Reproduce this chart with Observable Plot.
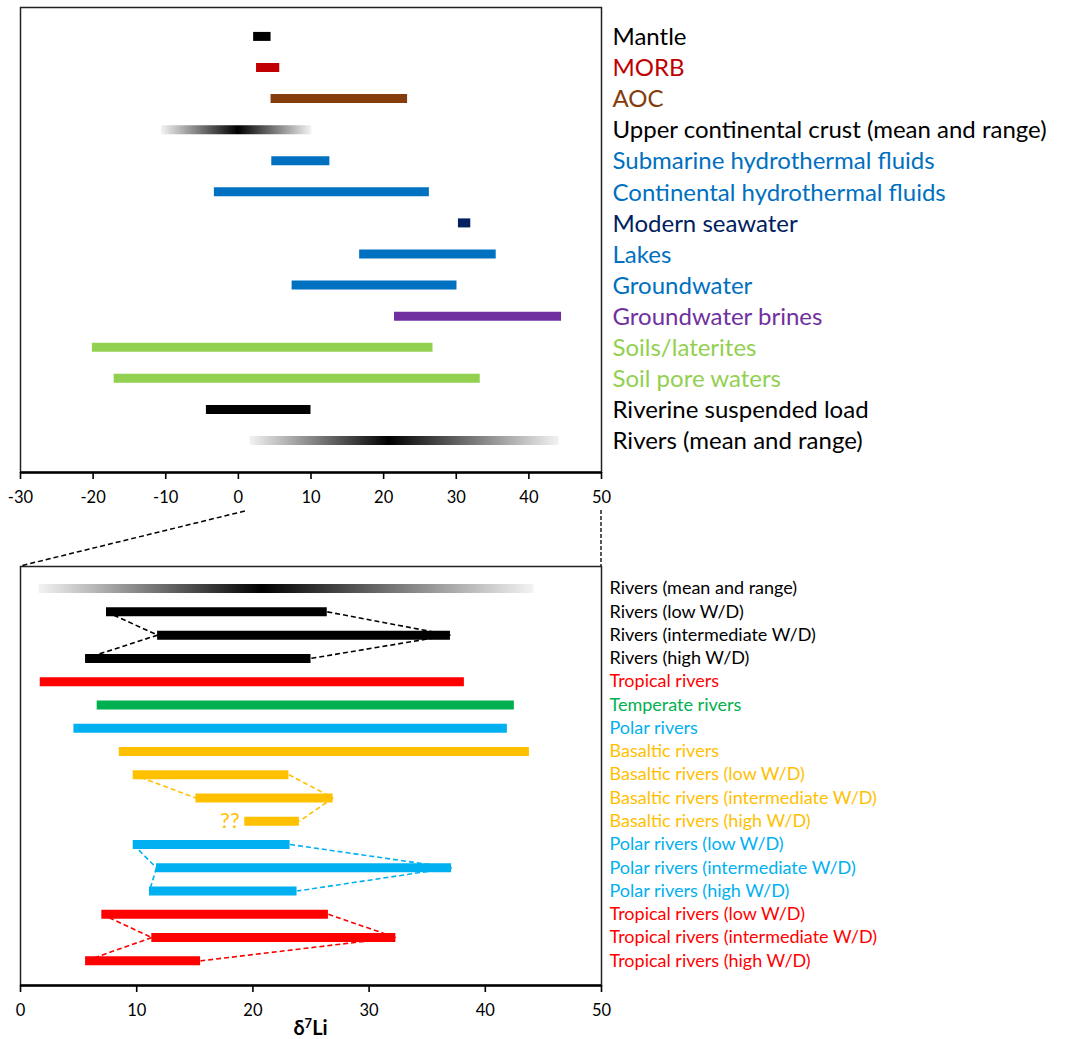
<!DOCTYPE html>
<html><head><meta charset="utf-8">
<script src="https://cdn.jsdelivr.net/npm/d3@7"></script>
<script src="https://cdn.jsdelivr.net/npm/@observablehq/plot@0.6"></script>
<style>
body{margin:0;background:#fff;}
#wrap{position:relative;width:1066px;height:1039px;font-family:Lato,"Open Sans",sans-serif;}
#wrap svg{position:absolute;left:0;overflow:visible;}
</style></head><body><div id="wrap"></div>
<script>
// ---------- TOP PANEL DATA ----------
const topNames = ["Mantle","MORB","AOC","Upper continental crust (mean and range)","Submarine hydrothermal fluids","Continental hydrothermal fluids","Modern seawater","Lakes","Groundwater","Groundwater brines","Soils/laterites","Soil pore waters","Riverine suspended load","Rivers (mean and range)"];
const topLow  = [2.1, 2.5, 4.5, -10.6, 4.6, -3.3, 30.3, 16.7, 7.4, 21.5, -20.1, -17.1, -4.4, 1.6];
const topHigh = [4.5, 5.7, 23.3, 10.1, 12.6, 26.3, 32.0, 35.5, 30.1, 44.5, 26.8, 33.3, 10.0, 44.2];
const topMean = [null, null, null, 0, null, null, null, null, null, null, null, null, null, 20.8];
const topColors = ["#000000","#C00000","#843C0C","#000000","#0070C0","#0070C0","#002060","#0070C0","#0070C0","#7030A0","#92D050","#92D050","#000000","#000000"];
const topTicks = [-30,-20,-10,0,10,20,30,40,50];

// ---------- BOTTOM PANEL DATA ----------
const botNames = ["Rivers (mean and range)","Rivers (low W/D)","Rivers (intermediate W/D)","Rivers (high W/D)","Tropical rivers","Temperate rivers","Polar rivers","Basaltic rivers","Basaltic rivers (low W/D)","Basaltic rivers (intermediate W/D)","Basaltic rivers (high W/D)","Polar rivers (low W/D)","Polar rivers (intermediate W/D)","Polar rivers (high W/D)","Tropical rivers (low W/D)","Tropical rivers (intermediate W/D)","Tropical rivers (high W/D)"];
const botLow  = [1.6, 7.4, 11.8, 5.6, 1.7, 6.6, 4.6, 8.5, 9.7, 15.1, 19.3, 9.7, 11.7, 11.1, 7.0, 11.3, 5.6];
const botHigh = [44.2, 26.4, 37.0, 25.0, 38.2, 42.5, 41.9, 43.8, 23.1, 26.9, 24.0, 23.2, 37.1, 23.8, 26.5, 32.3, 15.5];
const botMean = [20.8, null, null, null, null, null, null, null, null, null, null, null, null, null, null, null, null];
const botColors = ["#000000","#000000","#000000","#000000","#FF0000","#00B050","#00B0F0","#FFC000","#FFC000","#FFC000","#FFC000","#00B0F0","#00B0F0","#00B0F0","#FF0000","#FF0000","#FF0000"];
const botTicks = [0,10,20,30,40,50];
// dashed links between successive W/D bars (row pairs)
const leftLinks  = [[1,2],[2,3],[8,9],[11,12],[12,13],[14,15],[15,16]];
const rightLinks = [[1,2],[2,3],[8,9],[9,10],[11,12],[12,13],[14,15],[15,16]];
const unknownMark = {row: 10, text: "??"};
const zoomRange = [0, 50];

const rowsOf = (names, lo, hi, mean, col) => names.map((n, i) => ({i, name: n, lo: lo[i], hi: hi[i], mean: mean[i], color: col[i]}));
const topRows = rowsOf(topNames, topLow, topHigh, topMean, topColors);
const botRows = rowsOf(botNames, botLow, botHigh, botMean, botColors);

function gradientDefs(rows, prefix) {
  return (index, scales) => {
    const defs = d3.create("svg:defs");
    rows.forEach(r => {
      const g = defs.append("linearGradient").attr("id", prefix + r.i)
        .attr("gradientUnits", "userSpaceOnUse")
        .attr("x1", scales.x(r.lo)).attr("x2", scales.x(r.hi)).attr("y1", 0).attr("y2", 0);
      const m = (r.mean - r.lo) / (r.hi - r.lo);
      g.append("stop").attr("offset", 0).attr("stop-color", "#f3f3f3");
      g.append("stop").attr("offset", m).attr("stop-color", "#000");
      g.append("stop").attr("offset", 1).attr("stop-color", "#f3f3f3");
    });
    return defs.node();
  };
}

function bars(rows, prefix) {
  const solid = rows.filter(r => r.mean == null);
  const grad = rows.filter(r => r.mean != null);
  return [
    gradientDefs(grad, prefix),
    Plot.ruleY(solid, {y: "i", x1: "lo", x2: "hi", stroke: "color", strokeWidth: 9}),
    ...grad.map(r => Plot.ruleY([r], {y: "i", x1: "lo", x2: "hi", stroke: `url(#${prefix}${r.i})`, strokeWidth: 9}))
  ];
}

const W = 1066;
const wrap = document.getElementById("wrap");

// ---------- TOP PLOT ----------
const topPlot = Plot.plot({
  width: W, height: 520,
  marginLeft: 20, marginRight: 465, marginTop: 7, marginBottom: 48,
  style: {fontFamily: "Lato, sans-serif", fontSize: "16px", color: "#000", background: "transparent", overflow: "visible"},
  x: {domain: [-30, 50], ticks: topTicks, tickFormat: d => String(d), label: null},
  y: {domain: [-0.93, 14.03], reverse: true, axis: null},
  color: {type: "identity"},
  marks: [
    Plot.frame({stroke: "#222", strokeWidth: 1.5}),
    ...bars(topRows, "gt"),
    Plot.text(topRows, {x: 50, y: "i", text: "name", fill: "color", dx: 11, dy: 1, textAnchor: "start", fontSize: 24}),
    Plot.ruleY([14.03], {stroke: "#000", strokeWidth: 2.5}),
    Plot.axisX({ticks: topTicks, tickFormat: d => String(d), tickSize: 7, tickPadding: 12, strokeWidth: 1.6, fontSize: 16.5, label: null})
  ]
});
topPlot.style.top = "0px";
wrap.appendChild(topPlot);

// ---------- BOTTOM PLOT ----------
const botTop = 540;
const linkData = [
  ...leftLinks.map(([a, b]) => ({x1: botLow[a], y1: a, x2: botLow[b], y2: b, color: botColors[a]})),
  ...rightLinks.map(([a, b]) => ({x1: botHigh[a], y1: a, x2: botHigh[b], y2: b, color: botColors[a]}))
];
const botPlot = Plot.plot({
  width: W, height: 499,
  marginLeft: 20, marginRight: 465, marginTop: 26, marginBottom: 54,
  style: {fontFamily: "Lato, sans-serif", fontSize: "16px", color: "#000", background: "transparent", overflow: "visible"},
  x: {domain: zoomRange, ticks: botTicks, tickFormat: d => String(d), label: null},
  y: {domain: [-0.95, 17.06], reverse: true, axis: null},
  color: {type: "identity"},
  marks: [
    Plot.frame({stroke: "#222", strokeWidth: 1.5}),
    Plot.link(linkData, {x1: "x1", y1: "y1", x2: "x2", y2: "y2", stroke: "color", strokeWidth: 1.6, strokeDasharray: "5,3"}),
    ...bars(botRows, "gb"),
    Plot.text(botRows, {x: 50, y: "i", text: "name", fill: "color", dx: 8, textAnchor: "start", fontSize: 18}),
    Plot.text([unknownMark], {x: d => botLow[d.row], y: "row", text: "text", fill: botColors[unknownMark.row], dx: -5, textAnchor: "end", fontSize: 22}),
    Plot.ruleY([17.06], {stroke: "#000", strokeWidth: 2.5}),
    Plot.axisX({ticks: botTicks, tickFormat: d => String(d), tickSize: 7, tickPadding: 12, strokeWidth: 1.6, fontSize: 16.5, label: null}),
    (index, scales, values, dims) => {
      const cx = (dims.marginLeft + dims.width - dims.marginRight) / 2;
      const t = d3.create("svg:text")
        .attr("x", cx).attr("y", dims.height - dims.marginBottom + 50)
        .attr("text-anchor", "middle").attr("font-weight", "bold").attr("font-size", 20).attr("fill", "#000");
      t.append("tspan").text("δ");
      t.append("tspan").attr("font-size", 13).attr("dy", -7).text("7");
      t.append("tspan").attr("dy", 7).text("Li");
      return t.node();
    }
  ]
});
botPlot.style.top = botTop + "px";
wrap.appendChild(botPlot);

// ---------- ZOOM CONNECTORS ----------
const tx = topPlot.scale("x");
const bx = botPlot.scale("x");
const by = botPlot.scale("y");
const frameTop = botTop + Math.min(by.apply(by.domain[0]), by.apply(by.domain[1]));
const ov = d3.select(wrap).append("svg").attr("width", W).attr("height", 1039).style("top", "0px").style("pointer-events", "none");
ov.append("line").attr("x1", tx.apply(zoomRange[0]) + 7).attr("y1", 511)
  .attr("x2", bx.apply(zoomRange[0])).attr("y2", frameTop)
  .attr("stroke", "#000").attr("stroke-width", 1.5).attr("stroke-dasharray", "5,3");
ov.append("line").attr("x1", tx.apply(zoomRange[1])).attr("y1", 510)
  .attr("x2", bx.apply(zoomRange[1])).attr("y2", frameTop)
  .attr("stroke", "#111").attr("stroke-width", 1.4).attr("stroke-dasharray", "4,2");
</script></body></html>
